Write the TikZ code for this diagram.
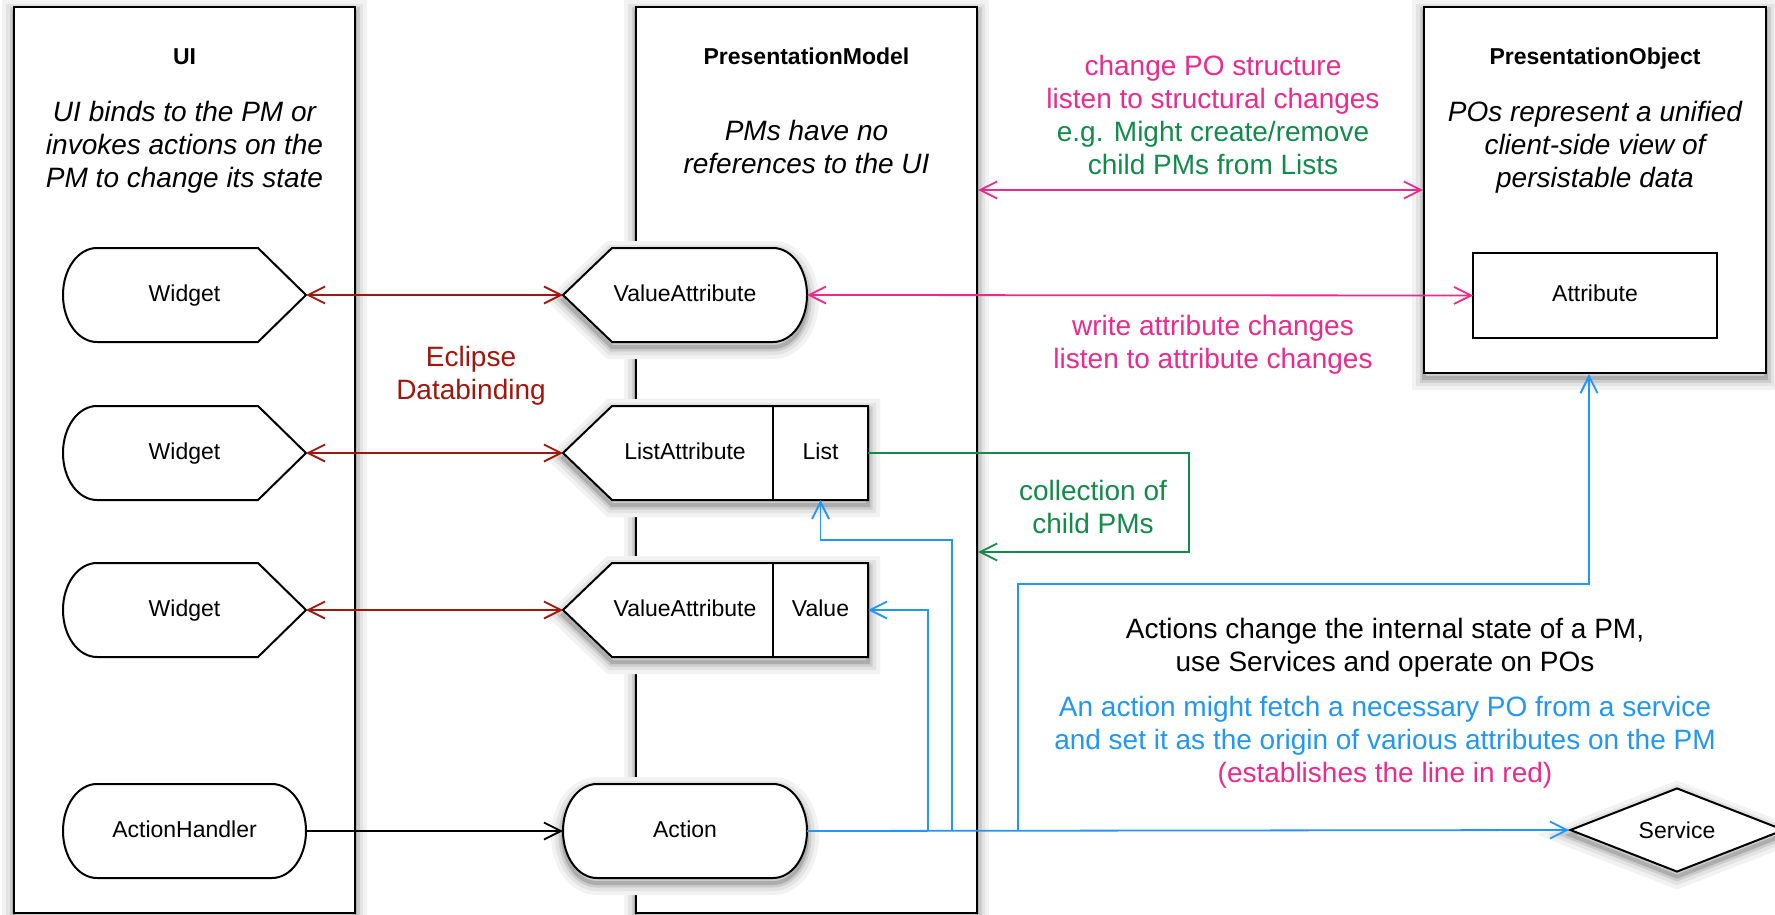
\documentclass[tikz,border=0pt]{standalone}
\usepackage{fontspec}
\setmainfont{Liberation Sans}
\usetikzlibrary{arrows.meta,shapes.geometric}

\definecolor{dbred}{RGB}{160,22,12}
\definecolor{popink}{RGB}{236,42,140}
\definecolor{pmgreen}{RGB}{18,138,74}
\definecolor{actblue}{RGB}{33,150,243}

\newcommand{\bigtxt}{\fontsize{28}{33}\selectfont}
\newcommand{\smtxt}{\fontsize{23}{27}\selectfont}

\tikzset{
  halo/.style={preaction={draw=black!5,line width=24pt,transform canvas={yshift=-5pt}},
               preaction={draw=black!11,line width=16pt,transform canvas={yshift=-5pt}},
               preaction={draw=black!20,line width=9pt,transform canvas={yshift=-5pt}},
               preaction={draw=black!32,line width=4pt,transform canvas={yshift=-5pt}}},
  panel/.style={draw,line width=2.4pt,fill=white,inner sep=0pt},
  outline/.style={draw,line width=2pt,fill=white},
  lbl/.style={font=\smtxt,inner sep=0pt,outer sep=0pt,minimum height=94,text height=17pt,text depth=5pt},
  ttl/.style={font=\smtxt\bfseries,inner sep=0pt,text height=17pt,text depth=5pt},
  desc/.style={font=\bigtxt\itshape,align=center,inner sep=0pt},
  note/.style={font=\bigtxt,align=center,inner sep=0pt},
  dbind/.style={draw=dbred,line width=1.8pt},
  pinkln/.style={draw=popink,line width=1.8pt},
  greenln/.style={draw=pmgreen,line width=1.8pt},
  blueln/.style={draw=actblue,line width=1.8pt}
}

\begin{document}
\begin{tikzpicture}[x=1pt,y=-1pt,>={Straight Barb[length=17pt,width=17pt]}]
        \useasboundingbox (0,0) rectangle (1775,915);

        \node[panel,halo,minimum width=341,minimum height=906] (ui) at (184.5,460) {};
        \node[panel,halo,minimum width=341,minimum height=906] (pm) at (806.5,460) {};
        \node[panel,halo,minimum width=342,minimum height=366] (po) at (1595,190) {};

        \node[ttl] (uittl) at (184.5,59) {UI};
        \node[ttl] (pmttl) at (806.5,59) {PresentationModel};
        \node[ttl] (pottl) at (1595,59) {PresentationObject};
        \node[desc] (uidesc) at (184.5,147.5) {UI binds to the PM or\\invokes actions on the\\PM to change its state};
        \node[desc] (pmdesc) at (806.5,147) {PMs have no\\references to the UI};
        \node[desc] (podesc) at (1595,147.5) {POs represent a unified\\client-side view of\\persistable data};

        \node[lbl,draw,line width=2pt,minimum width=244,minimum height=85] (attr) at (1595,295.5) {Attribute};

        \foreach \y/\n in {295/w1,453/w2,610/w3}{
            \draw[outline] (97,\y-47) -- (258,\y-47) -- (306,\y) -- (258,\y+47) -- (97,\y+47) .. controls (78,\y+47) and (63,\y+26) .. (63,\y) .. controls (63,\y-26) and (78,\y-47) .. (97,\y-47) -- cycle;
            \node[lbl,minimum width=243] (\n) at (184.5,\y) {Widget};
        }

        \draw[outline,halo] (563,295) -- (612,248) -- (773,248) .. controls (792,248) and (807,269) .. (807,295) .. controls (807,321) and (792,342) .. (773,342) -- (612,342) -- cycle;
        \node[lbl,minimum width=244] (va) at (685,295) {ValueAttribute};

        \foreach \y in {453,610}{
            \draw[outline,halo] (563,\y) -- (612,\y-47) -- (868,\y-47) -- (868,\y+47) -- (612,\y+47) -- cycle;
            \draw[line width=2pt] (773,\y-47) -- (773,\y+47);
        }
        \node[lbl,minimum width=244] (la) at (685,453) {ListAttribute};
        \node[lbl,minimum width=95] (lst) at (820.5,453) {List};
        \node[lbl,minimum width=244] (vb) at (685,610) {ValueAttribute};
        \node[lbl,minimum width=95] (val) at (820.5,610) {Value};

        \draw[outline] (97,784) -- (272,784) .. controls (291,784) and (306,805) .. (306,831) .. controls (306,857) and (291,878) .. (272,878) -- (97,878) .. controls (78,878) and (63,857) .. (63,831) .. controls (63,805) and (78,784) .. (97,784) -- cycle;
        \node[lbl,minimum width=243] (ah) at (184.5,831) {ActionHandler};
        \draw[outline,halo] (597,784) -- (773,784) .. controls (792,784) and (807,805) .. (807,831) .. controls (807,857) and (792,878) .. (773,878) -- (597,878) .. controls (578,878) and (563,857) .. (563,831) .. controls (563,805) and (578,784) .. (597,784) -- cycle;
        \node[lbl,minimum width=244] (act) at (685,831) {Action};

        \node[draw,fill=white,line width=2pt,diamond,shape aspect=2.5,minimum width=214,minimum height=84,inner sep=0pt,font=\smtxt,halo] (svc) at (1677,830) {Service};

        \draw[dbind,<->] (w1.east) -- (va.west);
        \draw[dbind,<->] (w2.east) -- (la.west);
        \draw[dbind,<->] (w3.east) -- (vb.west);
        \draw[line width=1.8pt,->] (ah.east) -- (act.west);

        \coordinate (pinky) at (1200,190);
        \draw[pinkln,<->] (pm.east |- pinky) -- (po.west |- pinky);
        \draw[pinkln,<->] (va.east) -- (attr.west);

        \coordinate (gback) at (1000,552);
        \draw[greenln,->] (lst.east) -- ++(321,0) |- (pm.east |- gback);

        \coordinate (j1) at (928,831);
        \coordinate (j2) at (952,831);
        \coordinate (j3) at (1018,831);
        \draw[blueln,->] (act.east) -- (svc.west);
        \draw[blueln,->] (j1) |- (val.east);
        \draw[blueln,->] (j2) -- ++(0,-291) -| (lst.south);
        \draw[blueln,->] (j3) -- ++(0,-247) -| ([xshift=-6pt]po.south);

        \node[note,text=dbred] (eclipse) at (471,376) {Eclipse\\Databinding};
        \node[note,text=popink] (chg) at (1213,114.5) {change PO structure\\listen to structural changes\\\textcolor{pmgreen}{e.g. Might create/remove}\\\textcolor{pmgreen}{child PMs from Lists}};
        \node[note,text=popink] (wrt) at (1213,345) {write attribute changes\\listen to attribute changes};
        \node[note,text=pmgreen] (coll) at (1093,507) {collection of\\child PMs};
        \node[note] (acttxt) at (1385,648) {Actions change the internal state of a PM,\\use Services and operate on POs};
        \node[note,text=actblue] (fetch) at (1385,742.5) {An action might fetch a necessary PO from a service\\and set it as the origin of various attributes on the PM\\\textcolor{popink}{(establishes the line in red)}};
\end{tikzpicture}
\end{document}
